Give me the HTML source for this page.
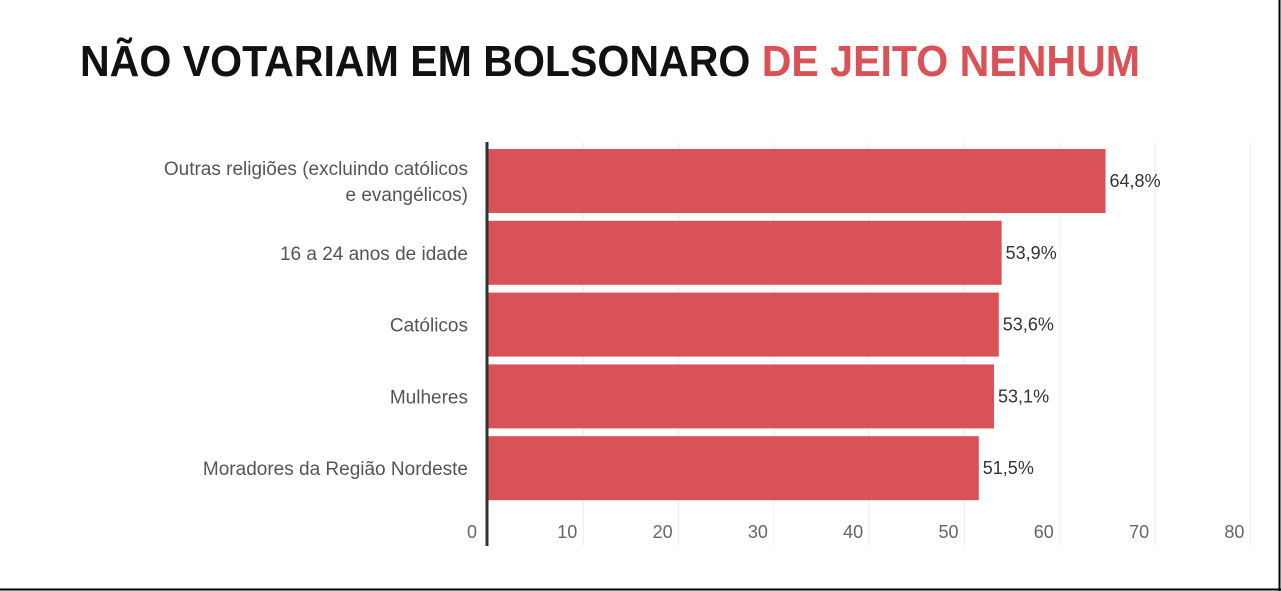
<!DOCTYPE html>
<html><head><meta charset="utf-8"><style>
html,body{margin:0;padding:0;background:#fff;}
svg{display:block;font-family:"Liberation Sans",sans-serif;}
</style></head><body>
<svg width="1281" height="591" viewBox="0 0 1281 591" id="chart">
<rect x="0" y="0" width="1281" height="591" fill="#fff"/>
<line x1="0" y1="589.5" x2="1281" y2="589.5" stroke="#000" stroke-width="2"/>
<line x1="1279.5" y1="0" x2="1279.5" y2="591" stroke="#000" stroke-width="2"/>
<text x="80" y="76" font-size="44" font-weight="bold" textLength="1060" lengthAdjust="spacingAndGlyphs"><tspan fill="#111">NÃO VOTARIAM EM BOLSONARO </tspan><tspan fill="#d95257">DE JEITO NENHUM</tspan></text>
<g id="grid"></g><g id="bars"></g><g id="labels"></g>
<line x1="487" y1="142" x2="487" y2="546" stroke="#333" stroke-width="3"/>
</svg>
<script>
const categories = [["Outras religiões (excluindo católicos","e evangélicos)"],["16 a 24 anos de idade"],["Católicos"],["Mulheres"],["Moradores da Região Nordeste"]];
const values = [64.8, 53.9, 53.6, 53.1, 51.5];
const valueLabels = ["64,8%","53,9%","53,6%","53,1%","51,5%"];
const ticks = [0,10,20,30,40,50,60,70,80];
const NS="http://www.w3.org/2000/svg";
const x0=488, unit=9.53, y0=149, pitch=71.8, bh=64;
const xs=v=>x0+v*unit;
const grid=document.getElementById('grid'), bars=document.getElementById('bars'), labels=document.getElementById('labels');
function mk(tag,attrs,parent){const e=document.createElementNS(NS,tag);for(const k in attrs)e.setAttribute(k,attrs[k]);parent.appendChild(e);return e;}
ticks.forEach(t=>{
  if(t>0){const l=mk('line',{x1:xs(t),x2:xs(t),y1:142,y2:546,stroke:'#ececec','stroke-width':1},grid);
  
  }
  const tx=mk('text',{x:(t===0?xs(t)-11:xs(t)-6),y:538,'font-size':18,fill:'#666','text-anchor':'end'},labels);
  tx.textContent=t;
  
  
});
values.forEach((v,i)=>{
  const y=y0+i*pitch;
  const r=mk('rect',{x:x0,y:y,width:xs(v)-x0,height:bh,fill:'#d95257'},bars);
  
  
  const vl=mk('text',{x:xs(v)+4,y:y+bh/2+6,'font-size':18,fill:'#333'},labels);
  vl.textContent=valueLabels[i];
  
  
  const lines=categories[i];
  const startY=y+bh/2+7-(lines.length-1)*13;
  lines.forEach((s,j)=>{
    const c=mk('text',{x:468,y:startY+j*26,'font-size':19,fill:'#555','text-anchor':'end'},labels);
    c.textContent=s;
    
    
  });
});
</script>
</body></html>
